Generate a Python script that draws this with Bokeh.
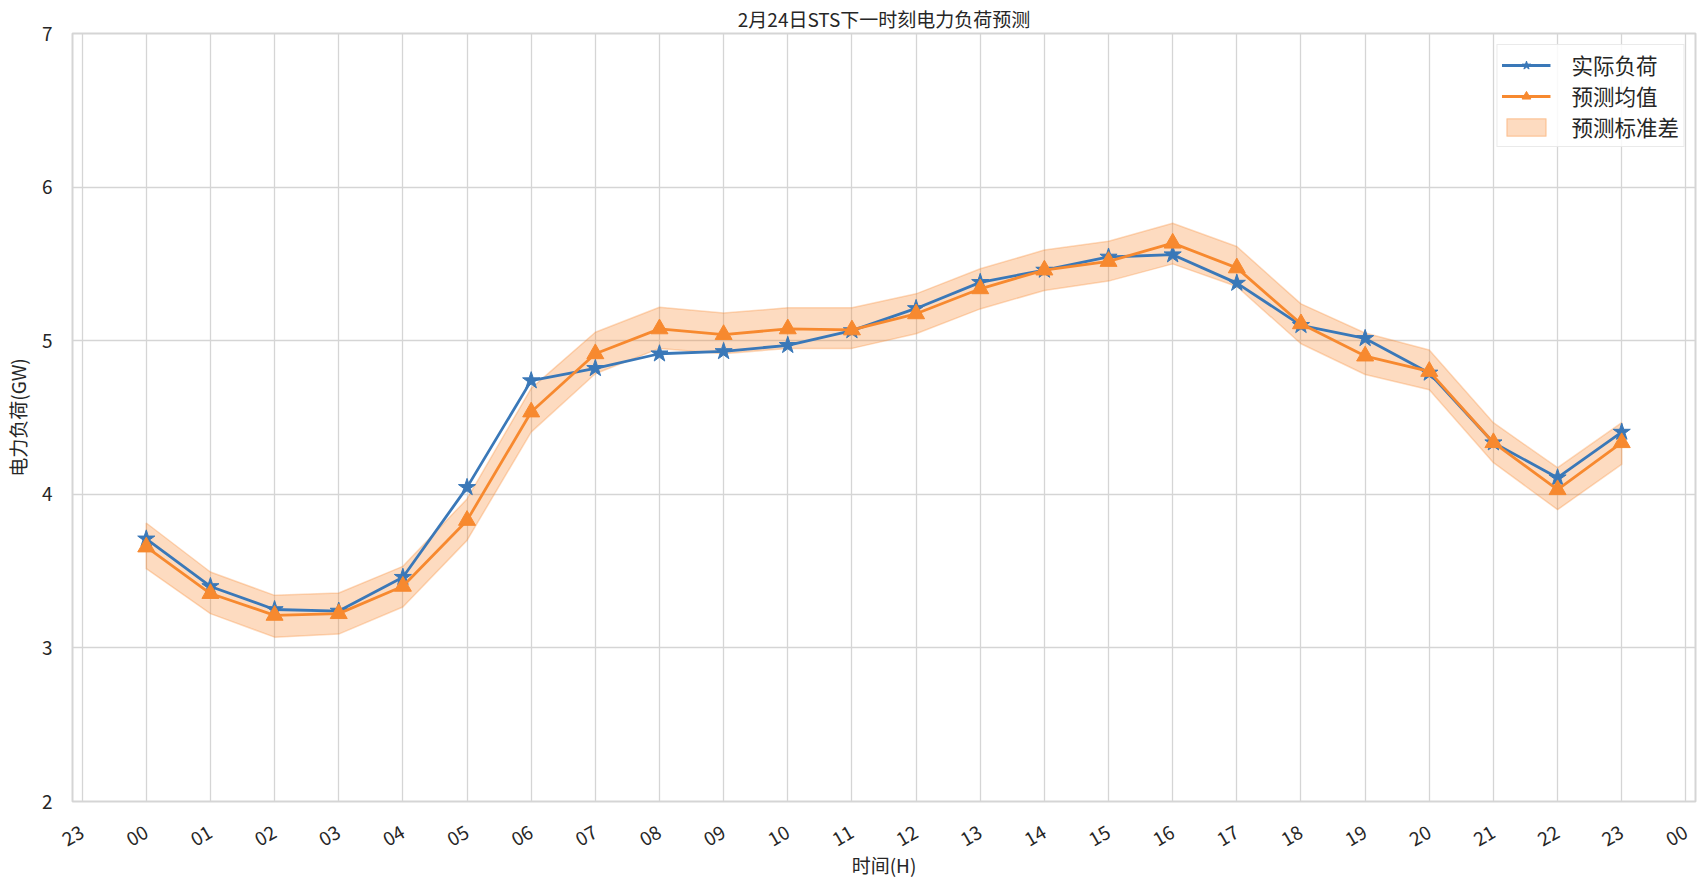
from math import pi
from bokeh.plotting import figure
from bokeh.models import FixedTicker, Range1d, Legend, LegendItem
from bokeh.embed import file_html
from bokeh.resources import INLINE

# ---- data ----
hours = list(range(24))
actual = [3.71, 3.40, 3.25, 3.24, 3.46, 4.045, 4.74, 4.82, 4.915, 4.93, 4.97, 5.066,
          5.21, 5.38, 5.46, 5.545, 5.56, 5.375, 5.10, 5.015, 4.79, 4.336, 4.108, 4.405]
pred_mean = [3.657, 3.354, 3.212, 3.223, 3.401, 3.83, 4.536, 4.915, 5.077, 5.04, 5.077, 5.07,
             5.175, 5.338, 5.46, 5.516, 5.635, 5.474, 5.11, 4.90, 4.80, 4.336, 4.03, 4.336]
pred_upper = [3.813, 3.494, 3.342, 3.357, 3.531, 3.97, 4.69, 5.055, 5.218, 5.18, 5.214, 5.214,
              5.305, 5.468, 5.59, 5.648, 5.765, 5.613, 5.24, 5.05, 4.94, 4.466, 4.173, 4.466]
pred_lower = [3.516, 3.223, 3.07, 3.09, 3.266, 3.70, 4.405, 4.785, 4.95, 4.915, 4.95, 4.95,
              5.045, 5.207, 5.327, 5.388, 5.50, 5.353, 4.98, 4.78, 4.68, 4.206, 3.90, 4.195]
tick_values = list(range(-1, 25))
tick_labels = ["23"] + ["%02d" % h for h in range(24)] + ["00"]
y_ticks = [2, 3, 4, 5, 6, 7]

TITLE = "2月24日STS下一时刻电力负荷预测"
X_LABEL = "时间(H)"
Y_LABEL = "电力负荷(GW)"
NAMES = ["实际负荷", "预测均值", "预测标准差"]

FONT = "Noto Sans CJK SC"
BLUE = "#3a78b8"
ORANGE = "#f7892f"
GRID = "#d5d5d5"
TEXT = "#262626"

p = figure(frame_width=1623, frame_height=768, output_backend="svg", toolbar_location=None,
           x_range=Range1d(-1.15, 24.15), y_range=Range1d(2, 7),
           min_border_left=63, min_border_right=2, min_border_top=32,
           min_border_bottom=10, title=TITLE)

p.title.text_font = FONT
p.title.text_font_size = "19px"
p.title.text_font_style = "normal"
p.title.text_color = TEXT
p.title.align = "center"
p.title.standoff = 4

p.outline_line_color = GRID
p.outline_line_width = 2
p.background_fill_color = "white"

p.xaxis.ticker = FixedTicker(ticks=tick_values)
p.xaxis.major_label_overrides = {v: l for v, l in zip(tick_values, tick_labels)}
p.xaxis.major_label_orientation = pi / 6
p.yaxis.ticker = FixedTicker(ticks=y_ticks)
p.xgrid.ticker = FixedTicker(ticks=tick_values)
p.ygrid.ticker = FixedTicker(ticks=y_ticks)

for ax in (p.xaxis, p.yaxis):
    ax.axis_line_color = None
    ax.major_tick_line_color = None
    ax.minor_tick_line_color = None
    ax.major_label_text_font = FONT
    ax.major_label_text_font_size = "19px"
    ax.major_label_text_color = TEXT
    ax.axis_label_text_font = FONT
    ax.axis_label_text_font_size = "19px"
    ax.axis_label_text_font_style = "normal"
    ax.axis_label_text_color = TEXT
p.xaxis.major_label_standoff = 23
p.yaxis.major_label_standoff = 14
p.xaxis.axis_label = X_LABEL
p.yaxis.axis_label = Y_LABEL
p.xaxis.axis_label_standoff = -5
p.yaxis.axis_label_standoff = 8

for g in (p.xgrid, p.ygrid):
    g.grid_line_color = GRID
    g.grid_line_width = 1.3

band = p.patch(hours + hours[::-1], pred_upper + pred_lower[::-1],
               fill_color=ORANGE, fill_alpha=0.3, line_color=ORANGE,
               line_alpha=0.3, line_width=1.5)
l1 = p.line(hours, actual, line_color=BLUE, line_width=2.8)
s1 = p.scatter(hours, actual, marker="star", size=18, fill_color=BLUE, line_color=BLUE)
l2 = p.line(hours, pred_mean, line_color=ORANGE, line_width=2.8)
s2 = p.scatter(hours, pred_mean, marker="triangle", size=17, fill_color=ORANGE, line_color=ORANGE)

legend = Legend(items=[LegendItem(label=NAMES[0], renderers=[l1, s1]),
                       LegendItem(label=NAMES[1], renderers=[l2, s2]),
                       LegendItem(label=NAMES[2], renderers=[band])],
                location="top_right", margin=11, padding=4, spacing=0,
                glyph_width=49, glyph_height=22, label_height=22,
                label_standoff=21, label_text_font=FONT,
                label_text_font_size="21.5px", label_text_color=TEXT,
                border_line_color=GRID, border_line_width=1.3,
                background_fill_alpha=0.85)
p.add_layout(legend)

open("out.html", "w").write(file_html(p, INLINE))
